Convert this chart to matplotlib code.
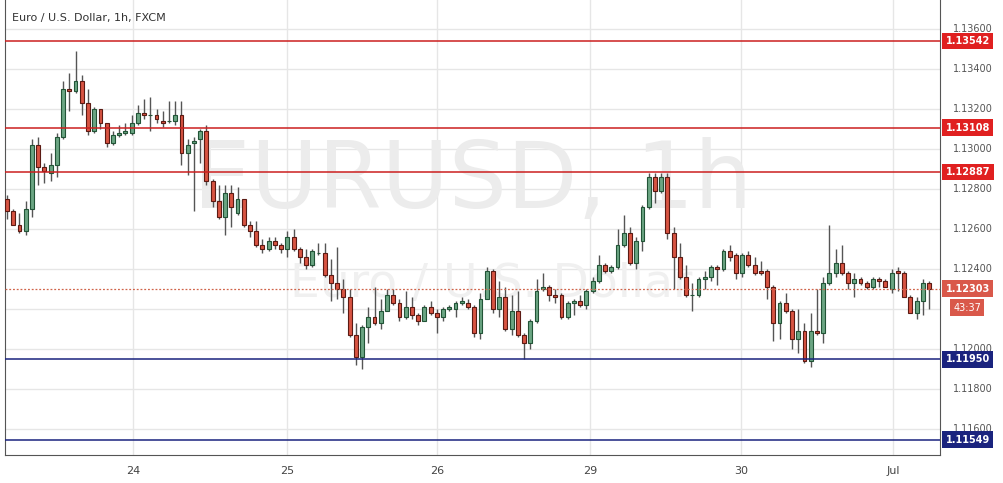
import matplotlib
matplotlib.use("Agg")
import matplotlib.pyplot as plt
import matplotlib.transforms as mtrans

opens = [1.1275,1.1269,1.1262,1.1259,1.1270,1.1302,1.1291,1.1288,1.1292,1.1306,
         1.1330,1.1329,1.1334,1.1323,1.1309,1.1320,1.1313,1.1303,1.1307,1.1308,
         1.1308,1.1313,1.1318,1.1317,1.1317,1.1314,1.1314,1.1314,1.1317,1.1298,
         1.1303,1.1305,1.1309,1.1284,1.1274,1.1266,1.1278,1.1268,
         1.1275,1.1262,1.1259,1.1252,1.1250,1.1254,1.1252,1.1250,1.1256,1.1250,
         1.1246,1.1242,1.1248,1.1248,1.1237,1.1233,1.1230,1.1226,1.1207,1.1196,
         1.1211,1.1216,1.1213,1.1219,1.1227,1.1223,1.1216,1.1221,1.1217,1.1214,
         1.1221,1.1218,1.1216,1.1220,1.1220,1.1223,1.1223,
         1.1221,1.1208,1.1225,1.1239,1.1220,1.1226,1.1210,1.1219,1.1207,1.1203,
         1.1214,1.1230,1.1231,1.1227,1.1227,1.1216,1.1223,1.1224,1.1222,1.1229,
         1.1234,1.1242,1.1239,1.1241,1.1252,1.1258,1.1243,1.1254,1.1271,1.1286,
         1.1279,1.1286,1.1258,1.1246,1.1236,1.1227,1.1227,
         1.1235,1.1236,1.1241,1.1240,1.1249,1.1247,1.1238,1.1247,1.1242,1.1239,
         1.1239,1.1231,1.1213,1.1223,1.1219,1.1205,1.1209,1.1194,1.1209,1.1208,
         1.1233,1.1238,1.1243,1.1238,1.1233,1.1235,1.1233,1.1231,1.1235,1.1234,
         1.1230,1.1239,1.1238,1.1226,1.1218,1.1224,1.1233]
closes = [1.1269,1.1262,1.1259,1.1270,1.1302,1.1291,1.1289,1.1292,1.1306,1.1330,
          1.1329,1.1334,1.1323,1.1309,1.1320,1.1313,1.1303,1.1307,1.1308,1.1309,
          1.1313,1.1318,1.1317,1.1317,1.1315,1.1313,1.1314,1.1317,1.1298,1.1302,
          1.1304,1.1309,1.1284,1.1274,1.1266,1.1278,1.1271,1.1275,
          1.1262,1.1259,1.1252,1.1250,1.1254,1.1252,1.1250,1.1256,1.1250,1.1246,
          1.1242,1.1249,1.1248,1.1237,1.1233,1.1230,1.1226,1.1207,1.1196,1.1211,
          1.1216,1.1213,1.1219,1.1227,1.1223,1.1216,1.1221,1.1217,1.1214,1.1221,
          1.1218,1.1216,1.1220,1.1221,1.1223,1.1224,1.1221,
          1.1208,1.1225,1.1239,1.1220,1.1226,1.1210,1.1219,1.1207,1.1203,1.1214,
          1.1229,1.1231,1.1227,1.1226,1.1216,1.1223,1.1224,1.1222,1.1229,1.1234,
          1.1242,1.1239,1.1241,1.1252,1.1258,1.1243,1.1254,1.1271,1.1286,1.1279,
          1.1286,1.1258,1.1246,1.1236,1.1227,1.1227,1.1235,
          1.1236,1.1241,1.1240,1.1249,1.1246,1.1238,1.1247,1.1242,1.1238,1.1238,
          1.1231,1.1213,1.1223,1.1219,1.1205,1.1209,1.1194,1.1209,1.1208,1.1233,
          1.1238,1.1243,1.1238,1.1233,1.1235,1.1233,1.1231,1.1235,1.1234,1.1231,
          1.1238,1.1238,1.1226,1.1218,1.1224,1.1233,1.12303]
highs = [1.1277,1.1270,1.1268,1.1274,1.1305,1.1306,1.1293,1.1298,1.1308,1.1334,
         1.1338,1.1349,1.1337,1.1330,1.1321,1.1320,1.1313,1.1309,1.1312,1.1313,
         1.1317,1.1322,1.1325,1.1326,1.1320,1.1319,1.1324,1.1324,1.1324,1.1305,
         1.1306,1.1310,1.1312,1.1285,1.1282,1.1282,1.1282,1.1281,
         1.1275,1.1264,1.1264,1.1255,1.1256,1.1256,1.1253,1.1259,1.1260,1.1251,
         1.1250,1.1250,1.1253,1.1253,1.1245,1.1251,1.1235,1.1230,1.1213,1.1212,
         1.1221,1.1231,1.1225,1.1230,1.1230,1.1225,1.1229,1.1226,1.1218,1.1222,
         1.1224,1.1220,1.1221,1.1222,1.1224,1.1226,1.1225,
         1.1222,1.1228,1.1241,1.1240,1.1234,1.1231,1.1227,1.1229,1.1208,1.1215,
         1.1235,1.1238,1.1232,1.1230,1.1228,1.1224,1.1225,1.1227,1.1230,1.1236,
         1.1247,1.1243,1.1242,1.1260,1.1267,1.1261,1.1256,1.1272,1.1288,1.1288,
         1.1288,1.1288,1.1261,1.1253,1.1242,1.1233,1.1236,
         1.1239,1.1242,1.1242,1.1250,1.1252,1.1248,1.1248,1.1249,1.1246,1.1244,
         1.1240,1.1232,1.1224,1.1228,1.1220,1.1220,1.1213,1.1218,1.1230,1.1236,
         1.1262,1.1250,1.1252,1.1239,1.1238,1.1236,1.1234,1.1236,1.1236,1.1235,
         1.1240,1.1241,1.1239,1.1227,1.1226,1.1235,1.1234]
lows = [1.1265,1.1262,1.1258,1.1257,1.1266,1.1282,1.1283,1.1284,1.1286,1.1305,
        1.1319,1.1328,1.1317,1.1307,1.1308,1.1310,1.1301,1.1302,1.1306,1.1307,
        1.1307,1.1312,1.1315,1.1309,1.1313,1.1311,1.1313,1.1312,1.1292,1.1287,
        1.1269,1.1293,1.1282,1.1271,1.1265,1.1257,1.1261,1.1267,
        1.1261,1.1256,1.1251,1.1248,1.1249,1.1250,1.1248,1.1246,1.1249,1.1243,
        1.1240,1.1241,1.1247,1.1236,1.1224,1.1225,1.1218,1.1206,1.1192,1.1190,
        1.1203,1.1212,1.1210,1.1219,1.1222,1.1214,1.1215,1.1215,1.1212,1.1214,
        1.1217,1.1208,1.1214,1.1219,1.1216,1.1222,1.1220,
        1.1206,1.1205,1.1225,1.1218,1.1216,1.1209,1.1207,1.1206,1.1195,1.1200,
        1.1213,1.1229,1.1224,1.1223,1.1215,1.1215,1.1217,1.1221,1.1220,1.1228,
        1.1233,1.1238,1.1238,1.1240,1.1251,1.1242,1.1240,1.1249,1.1270,1.1273,
        1.1278,1.1255,1.1230,1.1235,1.1226,1.1219,1.1226,
        1.1230,1.1234,1.1232,1.1239,1.1244,1.1235,1.1236,1.1241,1.1237,1.1237,
        1.1225,1.1204,1.1205,1.1218,1.1200,1.1198,1.1193,1.1191,1.1207,1.1203,
        1.1232,1.1236,1.1237,1.1230,1.1226,1.1232,1.1230,1.1230,1.1231,1.1232,
        1.1228,1.1229,1.1236,1.1222,1.1215,1.1217,1.1220,1.1226]
day_labels = ["24", "25", "26", "29", "30", "Jul"]
day_positions = [20.2, 44.9, 69.0, 93.6, 117.8, 142.2]
red_levels = [1.13542, 1.13108, 1.12887]
blue_levels = [1.11950, 1.11549]
last_price = 1.12303
y_ticks = [1.116, 1.118, 1.120, 1.122, 1.124, 1.126, 1.128, 1.130, 1.132, 1.134, 1.136]

n = min(len(opens), len(closes), len(highs), len(lows))
fig = plt.figure(figsize=(10.04, 4.83), dpi=100)
ax = fig.add_axes([5/1004, 28/483, 935/1004, 455/483])
ax.set_xlim(-0.32, 149.76)
ax.set_ylim(1.11472, 1.13747)

for p in day_positions:
    ax.axvline(p, color='#e6e6e6', lw=1, zorder=0)
for t in y_ticks:
    ax.axhline(t, color='#e6e6e6', lw=1, zorder=0)

ax.text(0.5, 0.60, "EURUSD, 1h", transform=ax.transAxes, ha='center', va='center',
        fontsize=66, color='#ececec', zorder=0)
ax.text(0.52, 0.375, "Euro / U.S. Dollar", transform=ax.transAxes, ha='center', va='center',
        fontsize=34, color='#f0f0f0', zorder=0)

up_f, up_e = '#6ba583', '#225437'
dn_f, dn_e = '#d75442', '#5b1a13'
for i in range(n):
    o, c, h, l = opens[i], closes[i], highs[i], lows[i]
    up = c >= o
    ax.vlines(i, l, h, color='#555555', lw=1, zorder=2)
    ax.bar(i, max(abs(c - o), 0.00003), bottom=min(o, c), width=0.62,
           color=up_f if up else dn_f, edgecolor=up_e if up else dn_e, lw=0.8, zorder=3)

for lv in red_levels:
    ax.axhline(lv, color='#cc1f1f', lw=1.1, zorder=4)
for lv in blue_levels:
    ax.axhline(lv, color='#1a237e', lw=1.1, zorder=4)
ax.axhline(last_price, color='#d0644a', lw=0.9, ls=(0, (1.5, 1.5)), zorder=4)

ax.set_xticks(day_positions)
ax.set_xticklabels(day_labels, fontsize=8, color='#444444')
ax.set_yticks([])
ax.tick_params(axis='x', length=0, pad=8)
ax.spines['top'].set_visible(False)
for s in ['right', 'bottom', 'left']:
    ax.spines[s].set_color('#555555')

tr = mtrans.blended_transform_factory(ax.transAxes, ax.transData)
for t in y_ticks:
    if abs(t - 1.122) < 1e-9:
        continue  # hidden behind the countdown box in the reference
    ax.text(1.014, t, f"{t:.5f}", transform=tr, fontsize=7, color='#555555', va='center', ha='left')
for lv in red_levels:
    ax.text(1.006, lv, f"{lv:.5f}", transform=tr, fontsize=7, color='white', va='center', ha='left',
            fontweight='bold', bbox=dict(boxstyle='square,pad=0.35', fc='#e02020', ec='none'), zorder=6, clip_on=False)
for lv in blue_levels:
    ax.text(1.006, lv, f"{lv:.5f}", transform=tr, fontsize=7, color='white', va='center', ha='left',
            fontweight='bold', bbox=dict(boxstyle='square,pad=0.35', fc='#1a237e', ec='none'), zorder=6, clip_on=False)
ax.text(1.006, last_price, f"{last_price:.5f}", transform=tr, fontsize=7, color='white', va='center', ha='left',
        fontweight='bold', bbox=dict(boxstyle='square,pad=0.35', fc='#d9584a', ec='none'), zorder=6, clip_on=False)
ax.text(1.014, last_price - 0.00095, "43:37", transform=tr, fontsize=7, color='white', va='center', ha='left',
        bbox=dict(boxstyle='square,pad=0.35', fc='#d9584a', ec='none'), zorder=6, clip_on=False)

fig.text(12/1004, 1 - 18/483, "Euro / U.S. Dollar, 1h, FXCM", fontsize=8, color='#333333', va='center')
fig.savefig("out.png", dpi=100, facecolor='white')
